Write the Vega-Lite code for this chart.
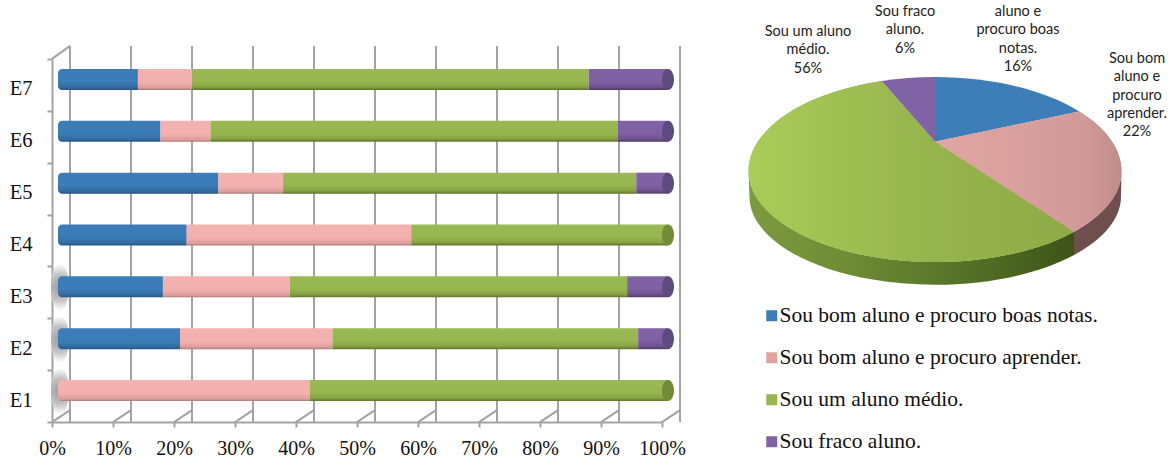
{
"$schema":"https://vega.github.io/schema/vega-lite/v6.json",
"bounds":"flush",
"padding":{"left":9,"top":4,"right":0,"bottom":0},
"spacing":87,
"background":"white",
"resolve":{"scale":{"fill":"independent"},"legend":{"fill":"independent"}},
"config":{"view":{"stroke":null},"text":{"lineBreak":"\n"}},
"datasets":{
"bars":[
{"student":"E7","slice":"Sou bom aluno e procuro boas notas.","pct":13.1},{"student":"E7","slice":"Sou bom aluno e procuro aprender.","pct":8.9},{"student":"E7","slice":"Sou um aluno médio.","pct":65},{"student":"E7","slice":"Sou fraco aluno.","pct":13},
{"student":"E6","slice":"Sou bom aluno e procuro boas notas.","pct":16.8},{"student":"E6","slice":"Sou bom aluno e procuro aprender.","pct":8.2},{"student":"E6","slice":"Sou um aluno médio.","pct":66.8},{"student":"E6","slice":"Sou fraco aluno.","pct":8.2},
{"student":"E5","slice":"Sou bom aluno e procuro boas notas.","pct":26.3},{"student":"E5","slice":"Sou bom aluno e procuro aprender.","pct":10.6},{"student":"E5","slice":"Sou um aluno médio.","pct":57.9},{"student":"E5","slice":"Sou fraco aluno.","pct":5.2},
{"student":"E4","slice":"Sou bom aluno e procuro boas notas.","pct":21.1},{"student":"E4","slice":"Sou bom aluno e procuro aprender.","pct":36.8},{"student":"E4","slice":"Sou um aluno médio.","pct":42.1},
{"student":"E3","slice":"Sou bom aluno e procuro boas notas.","pct":17.2},{"student":"E3","slice":"Sou bom aluno e procuro aprender.","pct":20.8},{"student":"E3","slice":"Sou um aluno médio.","pct":55.3},{"student":"E3","slice":"Sou fraco aluno.","pct":6.7},
{"student":"E2","slice":"Sou bom aluno e procuro boas notas.","pct":20},{"student":"E2","slice":"Sou bom aluno e procuro aprender.","pct":25},{"student":"E2","slice":"Sou um aluno médio.","pct":50.1},{"student":"E2","slice":"Sou fraco aluno.","pct":4.9},
{"student":"E1","slice":"Sou bom aluno e procuro aprender.","pct":41.3},{"student":"E1","slice":"Sou um aluno médio.","pct":58.7}
],
"ticks":[{"t":0},{"t":10},{"t":20},{"t":30},{"t":40},{"t":50},{"t":60},{"t":70},{"t":80},{"t":90},{"t":100}],
"pie":[
{"slice":"Sou bom aluno e procuro boas notas.","pct":16,"label":"aluno e\nprocuro boas\nnotas.\n16%"},
{"slice":"Sou bom aluno e procuro aprender.","pct":22,"label":"Sou bom\naluno e\nprocuro\naprender.\n22%"},
{"slice":"Sou um aluno médio.","pct":56,"label":"Sou um aluno\nmédio.\n56%"},
{"slice":"Sou fraco aluno.","pct":6,"label":"Sou fraco\naluno.\n6%"}
]
},
"hconcat":[
{
"width":610,"height":363,
"data":{"name":"bars"},
"transform":[{"stack":"pct","groupby":["student"],"as":["x0","x1"]}],
"layer":[
{"data":{"name":"ticks"},
 "mark":{"type":"rule","color":"#A3A3A3","strokeWidth":2,"xOffset":18,"x2Offset":18,"yOffset":-13,"y2Offset":-13},
 "encoding":{"x":{"field":"t","type":"quantitative","scale":{"domain":[0,100],"nice":false},
   "axis":{"title":null,"values":[0,10,20,30,40,50,60,70,80,90,100],"labelExpr":"datum.value+'%'","grid":false,"domainColor":"#A3A3A3","domainWidth":2,"tickColor":"#A3A3A3","tickWidth":2,"tickSize":5,"labelFont":"Liberation Serif","labelFontSize":20,"labelColor":"#111","labelPadding":11,"labelFlush":false,"labelOverlap":false}}}},
{"data":{"name":"ticks"},
 "mark":{"type":"rule","color":"#A3A3A3","strokeWidth":2,"x2Offset":18,"yOffset":26,"y2Offset":14},
 "encoding":{"x":{"field":"t","type":"quantitative"},"x2":{"field":"t"},"y":{"datum":"E1","type":"nominal"},"y2":{"datum":"E1"}}},
{"data":{"name":"ticks"},"transform":[{"filter":"datum.t===0"}],
 "mark":{"type":"rule","color":"#A3A3A3","strokeWidth":2,"x2Offset":18,"yOffset":-26,"y2Offset":-39},
 "encoding":{"x":{"field":"t","type":"quantitative"},"x2":{"field":"t"},"y":{"datum":"E7","type":"nominal"},"y2":{"datum":"E7"}}},
{"transform":[{"filter":"datum.x0===0 && (datum.student==='E1'||datum.student==='E2'||datum.student==='E3')"}],
 "mark":{"type":"point","shape":"M-9,0A9,24 0 1 1 9,0A9,24 0 1 1 -9,0Z","size":4,"filled":true,"opacity":1,"xOffset":8,"yOffset":-5,
   "fill":{"gradient":"radial","x1":0.5,"y1":0.5,"r1":0,"x2":0.5,"y2":0.5,"r2":0.5,"stops":[{"offset":0,"color":"#9a9a9a"},{"offset":0.55,"color":"#c4c4c4"},{"offset":0.85,"color":"#f0f0f0"},{"offset":1,"color":"#ffffff"}]}},
 "encoding":{"x":{"field":"x0","type":"quantitative"},"y":{"field":"student","type":"nominal"}}},
{"transform":[{"filter":"datum.slice==='Sou bom aluno e procuro boas notas.'"}],
 "mark":{"type":"bar","height":21,"xOffset":6,"x2Offset":6,"yOffset":-5.5,"cornerRadiusTopLeft":4,"cornerRadiusBottomLeft":4,
  "fill":{"gradient":"linear","x1":0,"y1":0,"x2":0,"y2":1,"stops":[{"offset":0,"color":"#3C7DB9"},{"offset":0.6,"color":"#3B7CB8"},{"offset":0.85,"color":"#346EA4"},{"offset":1,"color":"#27567F"}]}},
 "encoding":{
  "x":{"field":"x0","type":"quantitative"},"x2":{"field":"x1"},
  "y":{"field":"student","type":"nominal","sort":["E7","E6","E5","E4","E3","E2","E1"],"scale":{"domain":["E7","E6","E5","E4","E3","E2","E1"],"paddingInner":0,"paddingOuter":0},
   "axis":{"title":null,"grid":false,"tickBand":"extent","domainColor":"#A3A3A3","domainWidth":2,"tickColor":"#A3A3A3","tickWidth":2,"tickSize":5,"labelFont":"Liberation Serif","labelFontSize":20.5,"labelColor":"#111","labelPadding":15,"labelOffset":4,"labelAngle":0}}}},
{"transform":[{"filter":"datum.slice==='Sou bom aluno e procuro aprender.' && datum.x0>0"}],
 "mark":{"type":"bar","height":21,"xOffset":6,"x2Offset":6,"yOffset":-5.5,
  "fill":{"gradient":"linear","x1":0,"y1":0,"x2":0,"y2":1,"stops":[{"offset":0,"color":"#F3B2B0"},{"offset":0.65,"color":"#F2AFAD"},{"offset":0.9,"color":"#DB9E9C"},{"offset":1,"color":"#A87A78"}]}},
 "encoding":{"x":{"field":"x0","type":"quantitative"},"x2":{"field":"x1"},"y":{"field":"student","type":"nominal"}}},
{"transform":[{"filter":"datum.slice==='Sou bom aluno e procuro aprender.' && datum.x0===0"}],
 "mark":{"type":"bar","height":21,"xOffset":6,"x2Offset":6,"yOffset":-5.5,"cornerRadiusTopLeft":4,"cornerRadiusBottomLeft":4,
  "fill":{"gradient":"linear","x1":0,"y1":0,"x2":0,"y2":1,"stops":[{"offset":0,"color":"#F3B2B0"},{"offset":0.65,"color":"#F2AFAD"},{"offset":0.9,"color":"#DB9E9C"},{"offset":1,"color":"#A87A78"}]}},
 "encoding":{"x":{"field":"x0","type":"quantitative"},"x2":{"field":"x1"},"y":{"field":"student","type":"nominal"}}},
{"transform":[{"filter":"datum.slice==='Sou um aluno médio.'"}],
 "mark":{"type":"bar","height":21,"xOffset":6,"x2Offset":6,"yOffset":-5.5,
  "fill":{"gradient":"linear","x1":0,"y1":0,"x2":0,"y2":1,"stops":[{"offset":0,"color":"#9AB953"},{"offset":0.6,"color":"#98B64F"},{"offset":0.85,"color":"#87A443"},{"offset":1,"color":"#5E7430"}]}},
 "encoding":{"x":{"field":"x0","type":"quantitative"},"x2":{"field":"x1"},"y":{"field":"student","type":"nominal"}}},
{"transform":[{"filter":"datum.slice==='Sou fraco aluno.'"}],
 "mark":{"type":"bar","height":21,"xOffset":6,"x2Offset":6,"yOffset":-5.5,
  "fill":{"gradient":"linear","x1":0,"y1":0,"x2":0,"y2":1,"stops":[{"offset":0,"color":"#8162A6"},{"offset":0.6,"color":"#7F60A3"},{"offset":0.85,"color":"#6F5490"},{"offset":1,"color":"#4E3A66"}]}},
 "encoding":{"x":{"field":"x0","type":"quantitative"},"x2":{"field":"x1"},"y":{"field":"student","type":"nominal"}}},
{"transform":[{"filter":"datum.x1>=99.9"}],
 "mark":{"type":"point","shape":"M0,-10.5A6,10.5 0 1 1 0,10.5A6,10.5 0 1 1 0,-10.5Z","size":4,"filled":true,"opacity":1,"xOffset":6,"yOffset":-5.5},
 "encoding":{"x":{"field":"x1","type":"quantitative"},"y":{"field":"student","type":"nominal"},
  "fill":{"field":"slice","type":"nominal","legend":null,"scale":{"domain":["Sou um aluno médio.","Sou fraco aluno."],"range":["#718C38","#5F4A80"]}}}}
]},
{
"width":372,"height":224,
"data":{"name":"pie"},
"layer":[
{"transform":[{"filter":"datum.pct===56"}],
 "mark":{"type":"point","shape":"M-186.5,0L-185.5,26A185.5,88 0 0 0 139,84L139,60.7A186.5,91 0 0 1 -186.5,0Z","size":4,"filled":true,"opacity":1,
  "fill":{"gradient":"linear","x1":0,"y1":0,"x2":1,"y2":0,"stops":[{"offset":0,"color":"#7C9A3E"},{"offset":0.3,"color":"#6F8C36"},{"offset":0.75,"color":"#4F6A24"},{"offset":1,"color":"#3D5317"}]}}},
{"transform":[{"filter":"datum.pct===22"}],
 "mark":{"type":"point","shape":"M139,60.7L139,84A185.5,88 0 0 0 186,26L186.5,0A186.5,91 0 0 1 139,60.7Z","size":4,"filled":true,"opacity":1,"fill":"#6F4F4E"}},
{"mark":{"type":"point","size":4,"filled":true,"opacity":1},
 "encoding":{
  "shape":{"field":"slice","type":"nominal","legend":null,"scale":{"domain":["Sou bom aluno e procuro boas notas.","Sou bom aluno e procuro aprender.","Sou um aluno médio.","Sou fraco aluno."],
   "range":["M0,-94A186.5,94 0 0 1 144.3,-59.5L0,-29.3Z","M144.3,-59.5A186.5,94 0 0 1 186.5,0A186.5,91 0 0 1 139,60.7L0,-29.3Z","M139,60.7A186.5,91 0 0 1 -186.5,0A186.5,94 0 0 1 -53.3,-90L0,-29.3Z","M-53.3,-90A186.5,94 0 0 1 0,-94L0,-29.3Z"]}},
  "fill":{"field":"slice","type":"nominal","sort":null,"scale":{"domain":["Sou bom aluno e procuro boas notas.","Sou bom aluno e procuro aprender.","Sou um aluno médio.","Sou fraco aluno."],
   "range":["#3D7DB8","#E0A3A1","#98B64F","#8062A6"]},
   "legend":{"orient":"none","legendX":12,"legendY":246,"title":null,"symbolType":"square","symbolSize":121,"symbolStrokeWidth":0,"labelFont":"Liberation Serif","labelFontSize":21.5,"labelColor":"#111","rowPadding":19,"labelLimit":400,"labelOffset":-3}}}},
{"transform":[{"filter":"datum.pct===22"}],
 "mark":{"type":"point","shape":"M144.3,-59.5A186.5,94 0 0 1 186.5,0A186.5,91 0 0 1 139,60.7L0,-29.3Z","size":4,"filled":true,"opacity":1,
  "fill":{"gradient":"linear","x1":0,"y1":0,"x2":1,"y2":0,"stops":[{"offset":0,"color":"#E2A6A4"},{"offset":0.8,"color":"#D09A98"},{"offset":1,"color":"#C08C8A"}]}}},
{"transform":[{"filter":"datum.pct===56"}],
 "mark":{"type":"point","shape":"M139,60.7A186.5,91 0 0 1 -186.5,0A186.5,94 0 0 1 -53.3,-90L0,-29.3Z","size":4,"filled":true,"opacity":1,
  "fill":{"gradient":"linear","x1":0,"y1":0,"x2":1,"y2":0,"stops":[{"offset":0,"color":"#AACC59"},{"offset":0.5,"color":"#98B64E"},{"offset":1,"color":"#8EAA46"}]}}},
{"transform":[{"filter":"datum.pct===16"}],"mark":{"type":"text","font":"Lato","fontSize":14.5,"lineHeight":18.3,"baseline":"middle","align":"center","dx":83,"dy":-159,"color":"#222"},"encoding":{"text":{"field":"label"}}},
{"transform":[{"filter":"datum.pct===22"}],"mark":{"type":"text","font":"Lato","fontSize":14.5,"lineHeight":18.3,"baseline":"middle","align":"center","dx":202,"dy":-112,"color":"#222"},"encoding":{"text":{"field":"label"}}},
{"transform":[{"filter":"datum.pct===56"}],"mark":{"type":"text","font":"Lato","fontSize":14.5,"lineHeight":18.3,"baseline":"middle","align":"center","dx":-127,"dy":-139,"color":"#222"},"encoding":{"text":{"field":"label"}}},
{"transform":[{"filter":"datum.pct===6"}],"mark":{"type":"text","font":"Lato","fontSize":14.5,"lineHeight":18.3,"baseline":"middle","align":"center","dx":-30,"dy":-159,"color":"#222"},"encoding":{"text":{"field":"label"}}}
]}
]
}
